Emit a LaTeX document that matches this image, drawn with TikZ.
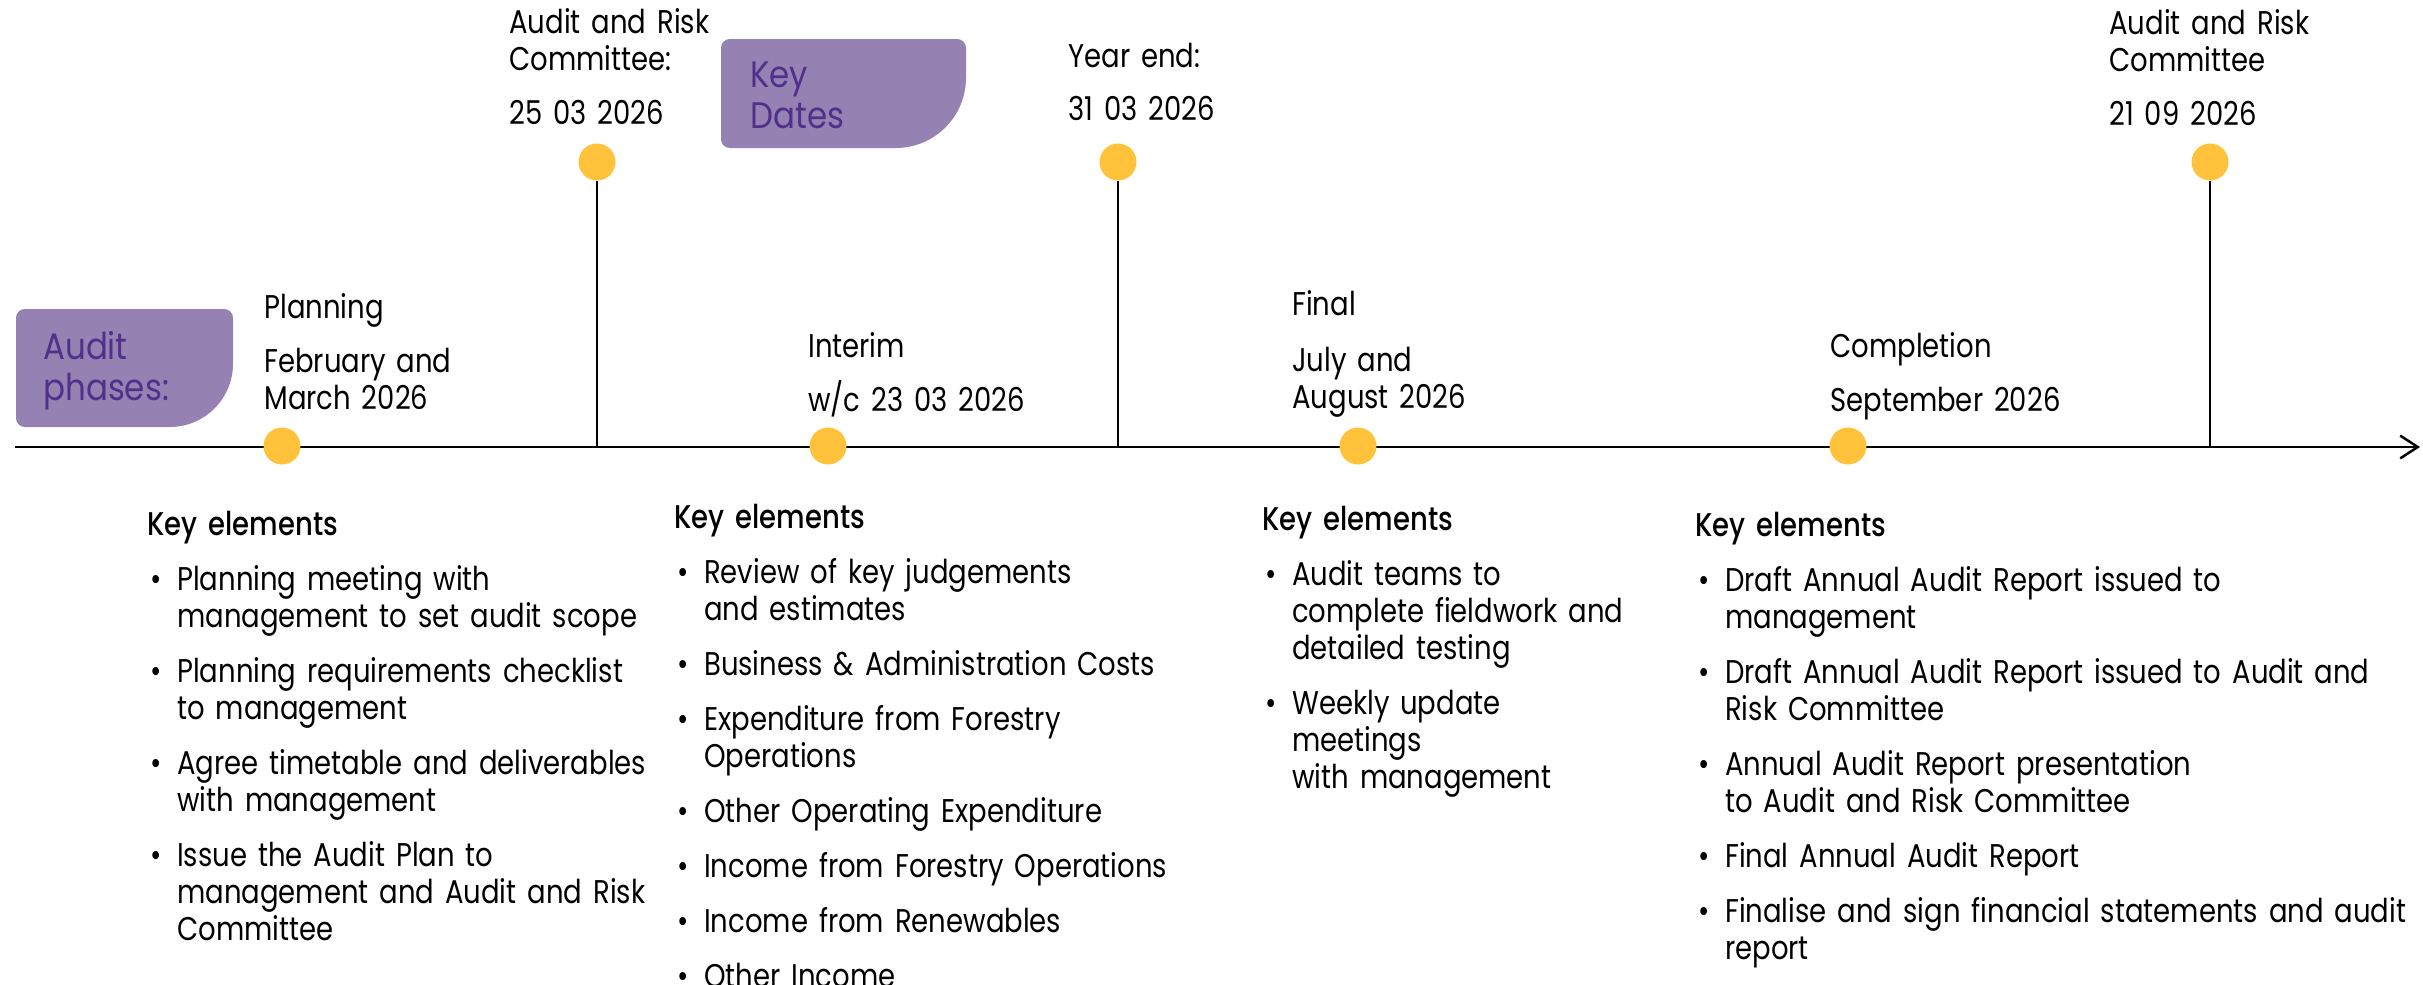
\documentclass[tikz,border=0pt]{standalone}
\usepackage{fontspec}
\setmainfont{Poppins}[FakeStretch=0.836]
\newfontfamily\medfont{Poppins Medium}[FakeStretch=0.836]
\newfontfamily\tagfont{Poppins}[FakeStretch=0.88]
\usepackage{enumitem}
\usetikzlibrary{arrows.meta}

\definecolor{boxpurple}{RGB}{150,129,179}
\definecolor{boxtext}{RGB}{80,48,138}
\definecolor{dotorange}{RGB}{255,194,58}

\newcommand{\bodysize}{\fontsize{18.7}{21.1}\selectfont}
\newcommand{\tagsize}{\tagfont\fontsize{21}{23.4}\selectfont}
\setlist[itemize]{label=\textbullet, leftmargin=17pt, labelwidth=12pt, labelsep=3pt,
  align=left, topsep=10.2pt, itemsep=10.2pt, parsep=0pt, partopsep=0pt}

\begin{document}
\begin{tikzpicture}[x=0.02cm, y=-0.02cm,
  every node/.style={inner sep=0pt},
  timeline/.style={line width=1.4pt, black},
  marker/.style={circle, fill=dotorange, minimum size=0.74cm},
  tagbox/.style={fill=boxpurple},
  tagtext/.style={anchor=base west, text width=5cm, font=\tagsize, text=boxtext},
  caption/.style={anchor=base west, text width=8cm, font=\bodysize},
  keycol/.style={anchor=base west, text width=15cm, font=\bodysize}]

\useasboundingbox (0,0) rectangle (2423,984);

% purple tags
\fill[tagbox, rounded corners=5pt] (16,309) -- (233,309)
  [rounded corners=36pt] -- (233,427) [rounded corners=5pt] -- (16,427) -- cycle;
\node[tagtext] (phases-tag) at (43,359) {Audit\\phases:};
\fill[tagbox, rounded corners=5pt] (721,39) -- (966,39)
  [rounded corners=40pt] -- (966,148) [rounded corners=5pt] -- (721,148) -- cycle;
\node[tagtext] (dates-tag) at (750,87) {Key\\Dates};

% time axis
\coordinate (axis-start) at (15,447);
\coordinate (axis-end) at (2420,447);
\draw[timeline, -{Straight Barb[length=10pt,width=13pt]}] (axis-start) -- (axis-end);

% key dates
\node[marker] (arc-march) at (597,162) {};
\node[marker] (year-end) at (1118,162) {};
\node[marker] (arc-sept) at (2210,162) {};
\foreach \m in {arc-march,year-end,arc-sept}
  \draw[timeline] (\m.south) -- (\m |- axis-start);

\node[caption] (arc-march-title) at (509,33) {Audit and Risk\\Committee:};
\node[caption] (arc-march-date) at (509,124) {25 03 2026};
\node[caption] (year-end-title) at (1068,67) {Year end:};
\node[caption] (year-end-date) at (1068,120) {31 03 2026};
\node[caption] (arc-sept-title) at (2109,34) {Audit and Risk\\Committee};
\node[caption] (arc-sept-date) at (2109,125) {21 09 2026};

% audit phases
\node[marker] (planning) at (282,446) {};
\node[marker] (interim) at (828,446) {};
\node[marker] (final) at (1358,446) {};
\node[marker] (completion) at (1848,446) {};

\node[caption] (planning-title) at (264,318) {Planning};
\node[caption] (planning-date) at (264,372) {February and\\March 2026};
\node[caption] (interim-title) at (808,357) {Interim};
\node[caption] (interim-date) at (808,411) {w/c 23 03 2026};
\node[caption] (final-title) at (1292,315) {Final};
\node[caption] (final-date) at (1292,371) {July and\\August 2026};
\node[caption] (completion-title) at (1830,357) {Completion};
\node[caption] (completion-date) at (1830,411) {September 2026};

% key elements per phase
\node[keycol] (planning-keys) at (147,535) {{\medfont Key elements}
\begin{itemize}
\item Planning meeting with\\management to set audit scope
\item Planning requirements checklist\\to management
\item Agree timetable and deliverables\\with management
\item Issue the Audit Plan to\\management and Audit and Risk\\Committee
\end{itemize}};

\node[keycol] (interim-keys) at (674,528) {{\medfont Key elements}
\begin{itemize}
\item Review of key judgements\\and estimates
\item Business \& Administration Costs
\item Expenditure from Forestry\\Operations
\item Other Operating Expenditure
\item Income from Forestry Operations
\item Income from Renewables
\item Other Income
\end{itemize}};

\node[keycol] (final-keys) at (1262,530) {{\medfont Key elements}
\begin{itemize}
\item Audit teams to\\complete fieldwork and\\detailed testing
\item Weekly update\\meetings\\with management
\end{itemize}};

\node[keycol] (completion-keys) at (1695,536) {{\medfont Key elements}
\begin{itemize}
\item Draft Annual Audit Report issued to\\management
\item Draft Annual Audit Report issued to Audit and\\Risk Committee
\item Annual Audit Report presentation\\to Audit and Risk Committee
\item Final Annual Audit Report
\item Finalise and sign financial statements and audit\\report
\end{itemize}};
\end{tikzpicture}
\end{document}
